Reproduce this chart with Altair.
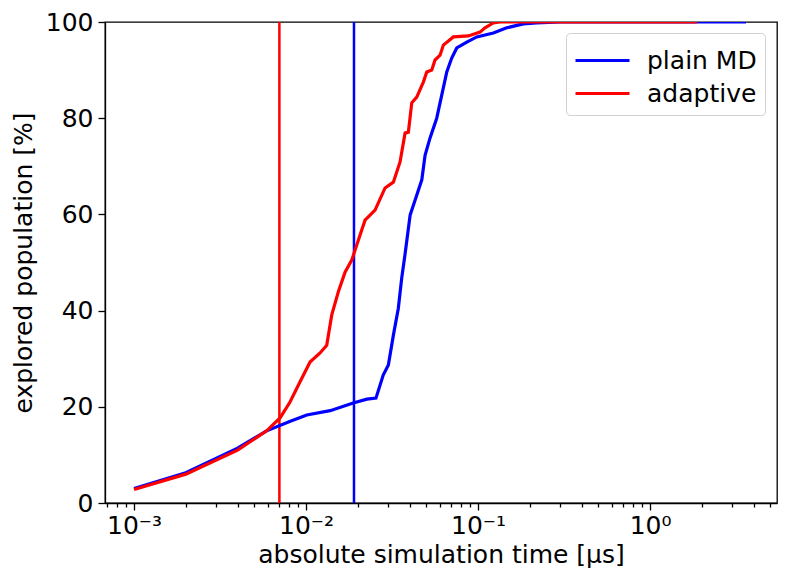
import altair as alt
import pandas as pd

# ---- data ----
plain_t = [0.001, 0.002, 0.004, 0.0059, 0.0081, 0.0101, 0.0138, 0.0188, 0.0226, 0.0255,
           0.0281, 0.0301, 0.0322, 0.0344, 0.0360, 0.0376, 0.0403, 0.0440, 0.0471, 0.0492,
           0.0526, 0.0575, 0.0615, 0.0658, 0.0703, 0.0752, 0.0860, 0.0983, 0.1227, 0.1469,
           0.1834, 0.2194, 0.2997, 3.614]
plain_p = [3.0, 6.3, 11.4, 15.0, 17.0, 18.3, 19.2, 20.8, 21.6, 21.8,
           26.6, 28.7, 34.9, 40.5, 46.8, 51.6, 59.9, 64.0, 67.2, 72.3,
           75.9, 80.0, 84.8, 89.6, 92.5, 94.6, 95.8, 96.9, 97.7, 98.8,
           99.6, 99.8, 100.0, 100.0]

adapt_t = [0.001, 0.002, 0.004, 0.0059, 0.00706, 0.00807, 0.00923, 0.01055, 0.01206, 0.01319,
           0.01411, 0.01541, 0.01686, 0.01844, 0.02061, 0.02203, 0.02519, 0.02880, 0.03218, 0.03520,
           0.03764, 0.03934, 0.04117, 0.04401, 0.04808, 0.05032, 0.05381, 0.05623, 0.06013, 0.06285,
           0.07186, 0.08782, 0.1027, 0.1098, 0.1227, 0.1343, 1.876]
adapt_p = [2.8, 6.0, 11.0, 15.0, 17.7, 21.0, 25.2, 29.3, 31.2, 32.8,
           39.1, 43.9, 48.0, 50.5, 55.7, 58.8, 60.9, 65.5, 66.7, 70.9,
           76.9, 77.1, 83.2, 84.4, 87.5, 89.6, 90.0, 92.1, 93.1, 95.2,
           96.9, 97.1, 97.9, 98.8, 99.8, 100.0, 100.0]

series_names = ["plain MD", "adaptive"]
series_colors = ["#0000ff", "#ff0000"]
vline_t = [0.019, 0.007]

major_ticks = [0.001, 0.01, 0.1, 1.0]
minor_ticks = [m * d for d in [0.0001, 0.001, 0.01, 0.1, 1.0] for m in range(2, 10)]
x_domain = [6.78e-4, 5.47]

# ---- tables ----
df = pd.concat([
    pd.DataFrame({"t": plain_t, "p": plain_p, "series": series_names[0]}),
    pd.DataFrame({"t": adapt_t, "p": adapt_p, "series": series_names[1]}),
], ignore_index=True)
df["i"] = range(len(df))
vdf = pd.DataFrame({"t": vline_t, "series": series_names})

FONT = "DejaVu Sans"
FS = 25
xscale = alt.Scale(type="log", domain=x_domain, nice=False)
yscale = alt.Scale(domain=[0, 100], nice=False)
cscale = alt.Scale(domain=series_names, range=series_colors)
legend = alt.Legend(title=None, orient="none", legendX=461, legendY=11)

label_expr = ("datum.value == 0.001 ? '10⁻³' : datum.value == 0.01 ? '10⁻²' : "
              "datum.value == 0.1 ? '10⁻¹' : datum.value == 1 ? '10⁰' : ''")

lines = alt.Chart(df).mark_line(strokeWidth=3.2, clip=True).encode(
    x=alt.X("t:Q", scale=xscale,
            axis=alt.Axis(values=major_ticks, labelExpr=label_expr, orient="bottom",
                          title="absolute simulation time [µs]", tickSize=7,
                          labelPadding=3, titlePadding=4, grid=False)),
    y=alt.Y("p:Q", scale=yscale,
            axis=alt.Axis(values=[0, 20, 40, 60, 80, 100], title="explored population [%]",
                          tickSize=7, labelPadding=5, titlePadding=9, grid=False)),
    color=alt.Color("series:N", scale=cscale, legend=legend),
    detail="series:N",
    order="i:Q",
)

vlines = alt.Chart(vdf).mark_rule(strokeWidth=2.5).encode(
    x=alt.X("t:Q", scale=xscale,
            axis=alt.Axis(values=minor_ticks, labels=False, domain=False, title=None,
                          orient="bottom", tickSize=4, grid=False)),
    color=alt.Color("series:N", scale=cscale, legend=legend),
)

chart = alt.layer(vlines, lines).resolve_axis(x="independent").properties(
    width=672, height=481,
    autosize=alt.AutoSizeParams(type="none"),
    padding={"left": 97, "top": 14, "right": 4, "bottom": 74},
).configure_view(
    stroke="black", strokeWidth=1.3
).configure_axis(
    labelFont=FONT, titleFont=FONT, labelFontSize=FS, titleFontSize=FS,
    labelColor="black", titleColor="black", titleFontWeight="normal",
    domainColor="black", tickColor="black", domainWidth=1.3, tickWidth=1.3,
).configure_legend(
    labelFont=FONT, labelFontSize=FS, labelColor="black",
    symbolType="M-1.5,0H1.5", symbolStrokeWidth=3, symbolSize=1296,
    symbolOffset=9,
    strokeColor="#d0d0d0", fillColor="white", cornerRadius=4,
    padding=8, rowPadding=-3, labelOffset=25,
)

chart.save("out.html", embed_options={"renderer": "svg", "actions": False})
